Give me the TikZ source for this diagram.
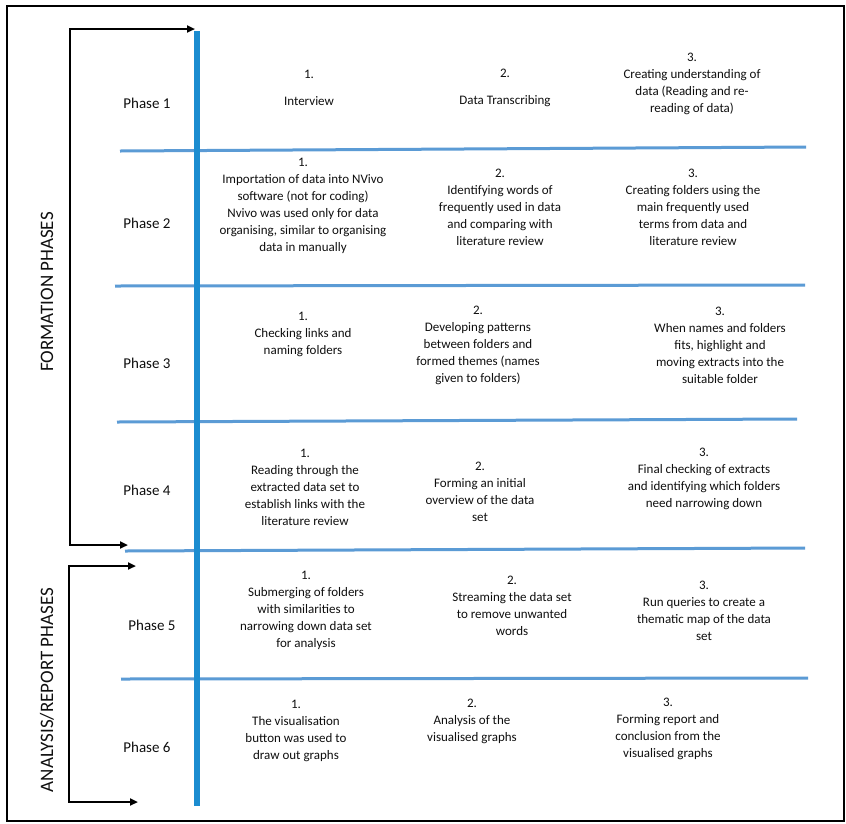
\documentclass[tikz,border=0pt]{standalone}
\usepackage{fontspec}
\setmainfont{Carlito}
\usetikzlibrary{arrows.meta}
\definecolor{vblue}{RGB}{27,140,208}
\definecolor{hblue}{RGB}{91,155,213}
\definecolor{txt}{RGB}{15,15,15}
\newcommand\bodyfs{\fontsize{13}{17}\selectfont}
\newcommand\phasefs{\fontsize{15}{18}\selectfont}
\newcommand\sidefs{\fontsize{19}{22}\selectfont}
\tikzset{
  cell/.style={align=center, font=\bodyfs, text=txt, inner sep=0pt},
  phase/.style={font=\phasefs, text=txt, inner sep=0pt},
  side/.style={font=\sidefs, text=txt, inner sep=0pt, rotate=90},
  hline/.style={draw=hblue, line width=3pt},
  vline/.style={draw=vblue, line width=6pt},
  brk/.style={draw=black, line width=2pt, -{Triangle[length=8pt,width=7pt]}},
}
\begin{document}
\begin{tikzpicture}[x=1pt,y=-1pt]
\useasboundingbox (0,0) rectangle (846,823);
\fill[white] (0,0) rectangle (846,823);
\draw[line width=2.8pt] (7,6) rectangle (844,821);

% horizontal separators
\coordinate (l1a) at (120,151); \coordinate (l1b) at (806,147);
\coordinate (l2a) at (115,286); \coordinate (l2b) at (805,285);
\coordinate (l3a) at (117,422); \coordinate (l3b) at (797,419);
\coordinate (l4a) at (125,551); \coordinate (l4b) at (805,548);
\coordinate (l5a) at (121,679); \coordinate (l5b) at (808,678);
\draw[hline] (l1a) -- (l1b);
\draw[hline] (l2a) -- (l2b);
\draw[hline] (l3a) -- (l3b);
\draw[hline] (l4a) -- (l4b);
\draw[hline] (l5a) -- (l5b);

% vertical blue line
\coordinate (vt) at (197,31); \coordinate (vb) at (197,806);
\draw[vline] (vt) -- (vb);

% brackets
\coordinate (fa) at (195,29); \coordinate (fb) at (70,29);
\coordinate (fc) at (70,545); \coordinate (fd) at (128,545);
\draw[brk] (fc) -- (fb) -- (fa);
\draw[brk] (fb) -- (fc) -- (fd);
\coordinate (aa) at (136,566); \coordinate (ab) at (69,566);
\coordinate (ac) at (69,802); \coordinate (ad) at (138,802);
\draw[brk] (ac) -- (ab) -- (aa);
\draw[brk] (ab) -- (ac) -- (ad);

% side labels
\node[side] (form) at (47,292) {FORMATION PHASES};
\node[side] (anal) at (47,690) {ANALYSIS/REPORT PHASES};

% phase labels
\node[phase] (ph1) at (147,103) {Phase 1};
\node[phase] (ph2) at (147,223) {Phase 2};
\node[phase] (ph3) at (147,363) {Phase 3};
\node[phase] (ph4) at (147,490) {Phase 4};
\node[phase] (ph5) at (152,625) {Phase 5};
\node[phase] (ph6) at (147,747) {Phase 6};

% Phase 1
\node[cell] (p1a) at (309,87.5) {1.\\[10pt]Interview};
\node[cell] (p1b) at (505,87.5) {2.\\[10pt]Data Transcribing};
\node[cell] (p1c) at (692,83.5) {3.\\Creating understanding of\\data (Reading and re-\\reading of data)};

% Phase 2
\node[cell] (p2a) at (303,205.5) {1.\\Importation of data into NVivo\\software (not for coding)\\Nvivo was used only for data\\organising, similar to organising\\data in manually};
\node[cell] (p2b) at (500,207) {2.\\Identifying words of\\frequently used in data\\and comparing with\\literature review};
\node[cell] (p2c) at (693,207) {3.\\Creating folders using the\\main frequently used\\terms from data and\\literature review};

% Phase 3
\node[cell] (p3a) at (303,334) {1.\\Checking links and\\naming folders};
\node[cell] (p3b) at (478,345) {2.\\Developing patterns\\between folders and\\formed themes (names\\given to folders)};
\node[cell] (p3c) at (720,345) {3.\\When names and folders\\fits, highlight and\\moving extracts into the\\suitable folder};

% Phase 4
\node[cell] (p4a) at (305,487) {1.\\Reading through the\\extracted data set to\\establish links with the\\literature review};
\node[cell] (p4b) at (480,491.5) {2.\\Forming an initial\\overview of the data\\set};
\node[cell] (p4c) at (704,478.5) {3.\\Final checking of extracts\\and identifying which folders\\need narrowing down};

% Phase 5
\node[cell] (p5a) at (306,610) {1.\\Submerging of folders\\with similarities to\\narrowing down data set\\for analysis};
\node[cell] (p5b) at (512,605.5) {2.\\Streaming the data set\\to remove unwanted\\words};
\node[cell] (p5c) at (704,610.5) {3.\\Run queries to create a\\thematic map of the data\\set};

% Phase 6
\node[cell] (p6a) at (296,730.5) {1.\\The visualisation\\button was used to\\draw out graphs};
\node[cell] (p6b) at (472,721.5) {2.\\Analysis of the\\visualised graphs};
\node[cell] (p6c) at (668,728.5) {3.\\Forming report and\\conclusion from the\\visualised graphs};
\end{tikzpicture}
\end{document}
